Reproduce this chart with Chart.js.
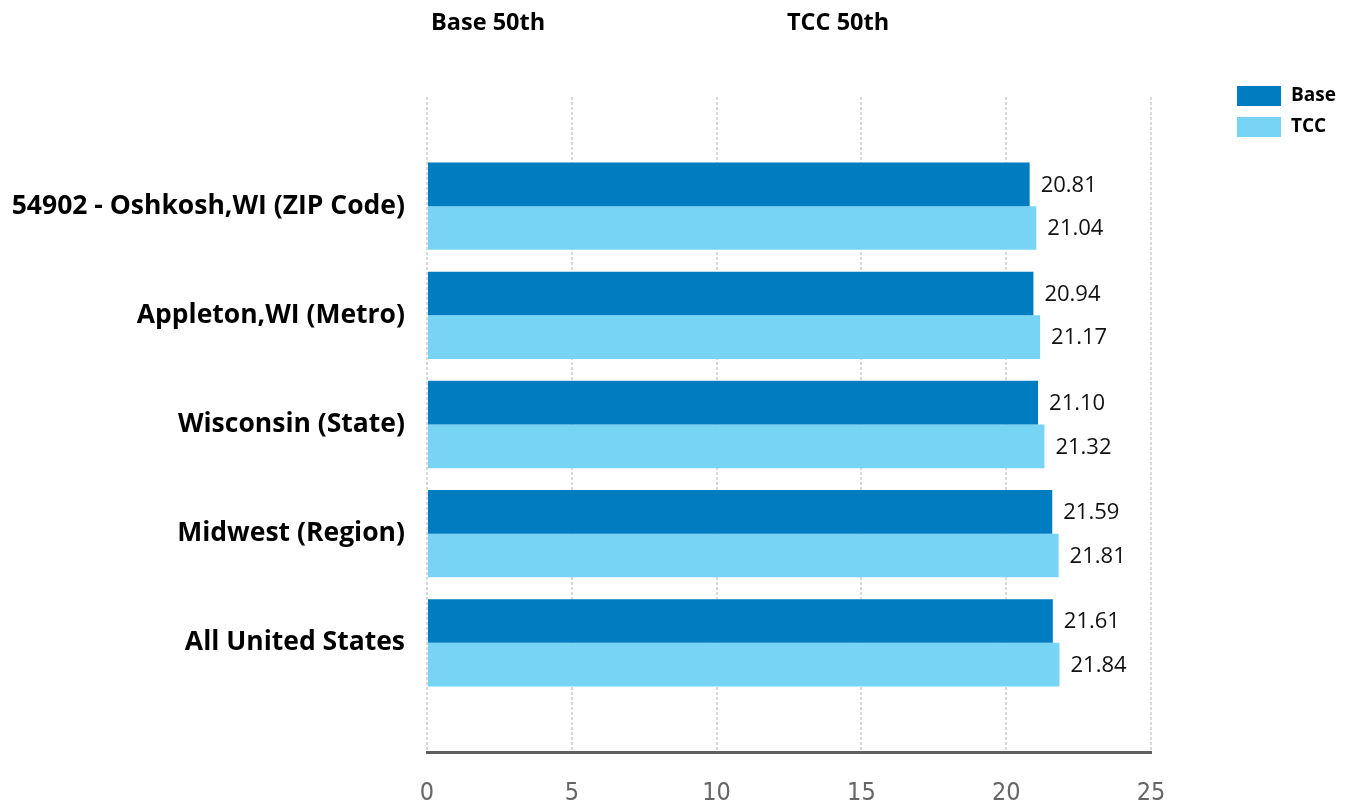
<!DOCTYPE html>
<html>
<head>
<meta charset="utf-8">
<script src="https://cdn.jsdelivr.net/npm/chart.js@4/dist/chart.umd.min.js"></script>
<style>
  html, body { margin: 0; padding: 0; background: #fff; }
  #wrap { width: 1354px; height: 806px; }
</style>
</head>
<body>
<div id="wrap"><canvas id="payChart" width="1354" height="806"></canvas></div>
<script>
var categories = ['54902 - Oshkosh,WI (ZIP Code)', 'Appleton,WI (Metro)', 'Wisconsin (State)', 'Midwest (Region)', 'All United States'];
var baseValues = [20.81, 20.94, 21.10, 21.59, 21.61];
var tccValues = [21.04, 21.17, 21.32, 21.81, 21.84];
var seriesNames = ['Base', 'TCC'];
var columnHeaders = ['Base 50th', 'TCC 50th'];
var xTicks = [0, 5, 10, 15, 20, 25];

var baseColor = '#007DC0';
var tccColor = '#77D4F4';

function toPoints(values) {
    return values.map(function (v, i) { return { x: v, y: i }; });
}

// value text next to the end of every bar
var valueLabels = {
    id: 'valueLabels',
    afterDatasetsDraw: function (chart) {
        var ctx = chart.ctx;
        ctx.save();
        ctx.font = '22px "Open Sans", "Noto Sans", sans-serif';
        ctx.fillStyle = '#111';
        ctx.textAlign = 'left';
        ctx.textBaseline = 'middle';
        chart.data.datasets.forEach(function (ds, d) {
            chart.getDatasetMeta(d).data.forEach(function (bar, i) {
                ctx.fillText(ds.data[i].x.toFixed(2), bar.x + 11, bar.y + 1);
            });
        });
        ctx.restore();
    }
};

// column headers above the plot and the legend on the right
var headerAndLegend = {
    id: 'headerAndLegend',
    afterDraw: function (chart) {
        var ctx = chart.ctx;
        ctx.save();
        ctx.fillStyle = '#000';
        ctx.textBaseline = 'middle';
        ctx.textAlign = 'left';
        ctx.font = 'bold 23.5px "Open Sans", "Noto Sans", sans-serif';
        ctx.fillText(columnHeaders[0], 431, 23);
        ctx.fillText(columnHeaders[1], 787, 23);

        ctx.font = 'bold 19px "Open Sans", "Noto Sans", sans-serif';
        chart.data.datasets.forEach(function (ds, d) {
            var y = 86 + d * 31;
            ctx.fillStyle = ds.backgroundColor;
            ctx.fillRect(1237, y, 44, 20);
            ctx.fillStyle = '#000';
            ctx.fillText(ds.label, 1291, y + 10);
        });
        ctx.restore();
    }
};

var ctx = document.getElementById('payChart').getContext('2d');

var payChart = new Chart(ctx, {
    type: 'bar',
    data: {
        datasets: [{
            label: seriesNames[0],
            data: toPoints(baseValues),
            backgroundColor: baseColor,
            borderWidth: 0
        }, {
            label: seriesNames[1],
            data: toPoints(tccValues),
            backgroundColor: tccColor,
            borderWidth: 0
        }]
    },
    options: {
        indexAxis: 'y',
        responsive: false,
        animation: false,
        categoryPercentage: 0.8,
        barPercentage: 1.0,
        layout: {
            padding: { top: 97, right: 203, left: 0, bottom: 0 }
        },
        plugins: {
            legend: { display: false },
            tooltip: { enabled: false }
        },
        scales: {
            x: {
                type: 'linear',
                min: xTicks[0],
                max: xTicks[xTicks.length - 1],
                afterBuildTicks: function (scale) {
                    scale.ticks = xTicks.map(function (v) { return { value: v }; });
                },
                afterFit: function (scale) { scale.height = 54; },
                grid: {
                    color: '#d9d9d9',
                    lineWidth: 2,
                    drawTicks: false
                },
                border: {
                    color: '#5f5f5f',
                    width: 3,
                    dash: [3, 2]
                },
                ticks: {
                    color: '#666',
                    padding: 26,
                    font: { family: '"Liberation Sans Narrow", "DejaVu Sans Condensed", sans-serif', size: 25 }
                }
            },
            y: {
                type: 'linear',
                reverse: true,
                offset: false,
                min: -1,
                max: categories.length,
                afterBuildTicks: function (scale) {
                    scale.ticks = categories.map(function (c, i) { return { value: i }; });
                },
                afterFit: function (scale) { scale.width = 427; },
                grid: { display: false, drawTicks: false },
                border: { display: false },
                ticks: {
                    color: '#000',
                    padding: 22,
                    font: { family: '"Open Sans", "Noto Sans", sans-serif', size: 26.5, weight: 'bold' },
                    callback: function (value) { return categories[value] || ''; }
                }
            }
        }
    },
    plugins: [valueLabels, headerAndLegend]
});
</script>
</body>
</html>
